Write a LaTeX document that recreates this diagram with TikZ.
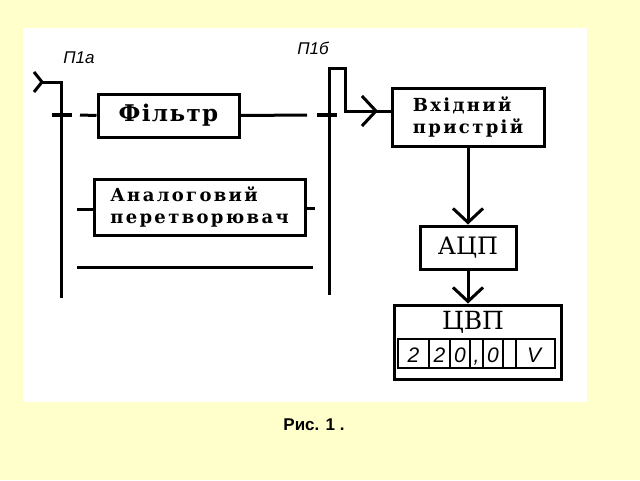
\documentclass[tikz,border=0pt]{standalone}
\usepackage{fontspec}
\usetikzlibrary{arrows.meta}
\setmainfont{Liberation Sans}
\newfontfamily\blockserif{DejaVu Serif}
\newfontfamily\blockslab{DejaVu Serif}[LetterSpace=13]
\definecolor{pagebg}{HTML}{FFFFCC}

\tikzset{
  wire/.style={line width=3pt},
  contact/.style={line width=4.5pt},
  block/.style={draw, line width=3pt, fill=white, inner sep=0pt},
  barb/.style={wire, -{Straight Barb[length=14pt, width=30pt]}},
  digit/.style={font=\itshape\fontsize{21}{21}\selectfont, inner sep=0pt, anchor=base},
  switchlabel/.style={font=\itshape\fontsize{17}{17}\selectfont}
}

\begin{document}
\begin{tikzpicture}[x=1pt, y=-1pt]

        % Sheet
        \fill[pagebg] (0,0) rectangle (640,480);
        \fill[white] (23,28) rectangle (587,402);
        \useasboundingbox (0,0) rectangle (640,480);

        % Blocks
        \node[block, minimum width=141, minimum height=43,
              font=\blockserif\bfseries\fontsize{23}{24}\selectfont] (filtr) at (168.5,115.5) {\addfontfeature{LetterSpace=6}Фільтр};
        \node[block, minimum width=211, minimum height=56, align=left,
              font=\blockslab\bfseries\fontsize{18}{22}\selectfont] (analog) at (199.5,207) {Аналоговий\\перетворювач};
        \node[block, minimum width=152, minimum height=58, align=left,
              font=\blockslab\bfseries\fontsize{18}{22}\selectfont] (vhid) at (468,117) {Вхідний\\пристрій};
        \node[block, minimum width=96, minimum height=43,
              font=\blockserif\fontsize{24}{26}\selectfont] (adc) at (468,247.5) {АЦП};
        \node[block, minimum width=167, minimum height=74] (cvp) at (477.5,342) {};
        \node[font=\blockserif\fontsize{25}{28}\selectfont] (cvplabel) at (473,322) {ЦВП};

        % Display of the ЦВП
        \draw[line width=2.2pt] (398,339) rectangle (555,368);
        \foreach \x in {429,450,470,483,503,516}
            \draw[line width=2.2pt] (\x,339) -- (\x,368);
        \node[digit] (d1) at (413.5,362) {2};
        \node[digit] (d2) at (439.5,362) {2};
        \node[digit] (d3) at (460,362) {0};
        \node[digit] (d4) at (476.5,362) {,};
        \node[digit] (d5) at (493,362) {0};
        \node[digit] (unit) at (534,362) {V};

        % Switch П1а
        \coordinate (p1atop) at (61,82);
        \coordinate (p1abot) at (61,298);
        \draw[wire] (34,72) -- (42,82) -- (34,92);
        \draw[wire] (42,82) -- (p1atop) -- (p1abot);
        \draw[contact] (52,115) -- (72,115);
        \node[switchlabel] (p1a) at (79,58) {П1а};

        % Switch П1б
        \coordinate (p1btop) at (329,68);
        \coordinate (p1bbot) at (329,295);
        \coordinate (inarr) at (378,111);
        \draw[wire] (p1bbot) -- (p1btop) -| (345,111) -- (inarr);
        \draw[contact] (317,115) -- (337,115);
        \node[switchlabel] (p1b) at (313,48) {П1б};

        % Connections
        \draw[wire] (80,115) -- (filtr.west);
        \draw[wire] (filtr.east) -- (307,115);
        \draw[wire] (77,209) -- (analog.west |- 0,209);
        \draw[wire] (analog.east |- 0,208) -- (315,208);
        \draw[wire] (77,267) -- (313,267);
        \draw[barb] (345,111) -- (inarr);
        \draw[wire] (inarr) -- (vhid.west |- inarr);
        \draw[barb] (vhid.south) -- (adc.north);
        \draw[barb] (adc.south) -- (cvp.north -| adc.south);

        % Caption
        \node[font=\bfseries\fontsize{17}{17}\selectfont] (caption) at (314,425) {Рис. 1 .};

\end{tikzpicture}
\end{document}
